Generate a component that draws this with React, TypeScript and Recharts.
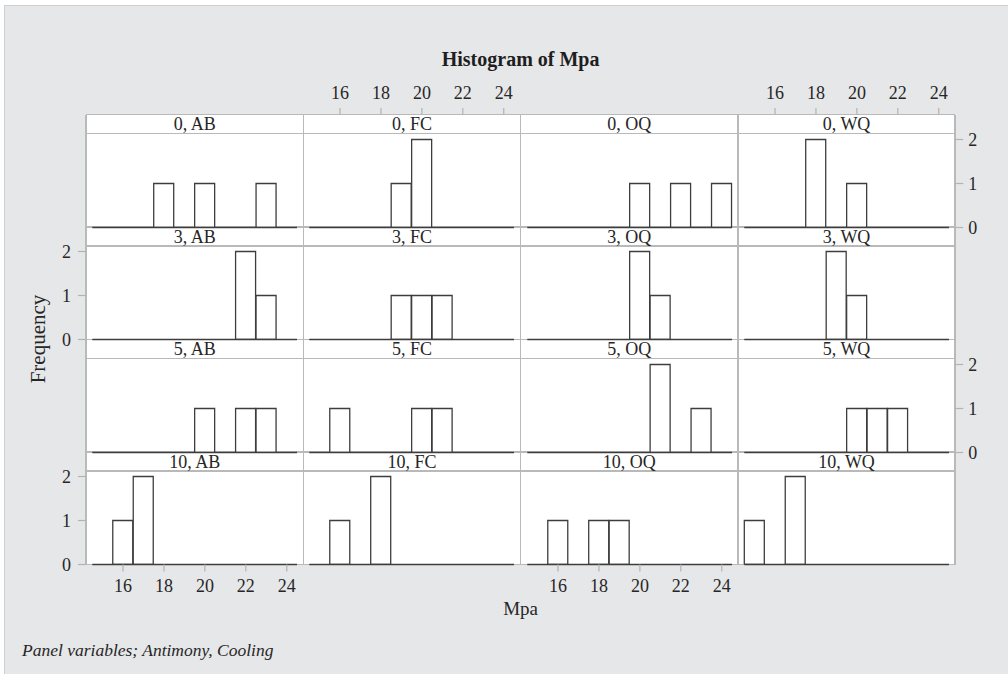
import React from 'react';
import { BarChart, Bar, XAxis, YAxis, ReferenceLine } from 'recharts';

// Bins of width 1 centred on integer Mpa values
const BINS = [15, 16, 17, 18, 19, 20, 21, 22, 23, 24];
const ANTIMONY = ['0', '3', '5', '10'];
const COOLING = ['AB', 'FC', 'OQ', 'WQ'];
const X_TICKS = [16, 18, 20, 22, 24];
const Y_TICKS = [0, 1, 2];

// Frequencies per bin (15..24) for each panel
const A0_AB = [0, 0, 0, 1, 0, 1, 0, 0, 1, 0];
const A0_FC = [0, 0, 0, 0, 1, 2, 0, 0, 0, 0];
const A0_OQ = [0, 0, 0, 0, 0, 1, 0, 1, 0, 1];
const A0_WQ = [0, 0, 0, 2, 0, 1, 0, 0, 0, 0];
const A3_AB = [0, 0, 0, 0, 0, 0, 0, 2, 1, 0];
const A3_FC = [0, 0, 0, 0, 1, 1, 1, 0, 0, 0];
const A3_OQ = [0, 0, 0, 0, 0, 2, 1, 0, 0, 0];
const A3_WQ = [0, 0, 0, 0, 2, 1, 0, 0, 0, 0];
const A5_AB = [0, 0, 0, 0, 0, 1, 0, 1, 1, 0];
const A5_FC = [0, 1, 0, 0, 0, 1, 1, 0, 0, 0];
const A5_OQ = [0, 0, 0, 0, 0, 0, 2, 0, 1, 0];
const A5_WQ = [0, 0, 0, 0, 0, 1, 1, 1, 0, 0];
const A10_AB = [0, 1, 2, 0, 0, 0, 0, 0, 0, 0];
const A10_FC = [0, 1, 0, 2, 0, 0, 0, 0, 0, 0];
const A10_OQ = [0, 1, 0, 1, 1, 0, 0, 0, 0, 0];
const A10_WQ = [1, 0, 2, 0, 0, 0, 0, 0, 0, 0];

const PANEL_COUNTS = [
  [A0_AB, A0_FC, A0_OQ, A0_WQ],
  [A3_AB, A3_FC, A3_OQ, A3_WQ],
  [A5_AB, A5_FC, A5_OQ, A5_WQ],
  [A10_AB, A10_FC, A10_OQ, A10_WQ],
];

// Layout
const GRID_L = 86;
const GRID_T = 114.5;
const COL_W = 217.3;
const ROW_H = 112.5;
const STRIP_H = 19;
const PAD_X = 6.3;
const PX_PER_UNIT = 44;
const Y_MAX = ROW_H / PX_PER_UNIT;
const AX = 40;

const FONT = '"Liberation Serif", "Times New Roman", serif';
const TEXT = '#262626';
const FRAME = '#b9b9b9';
const TICK = '#b3b3b3';
const BAR_STROKE = '#3d3d3d';

const tickStyle = { fill: TEXT, fontSize: 18, fontFamily: FONT };

function Panel({ r, c }: { r: number; c: number }) {
  const counts = PANEL_COUNTS[r][c];
  const data = BINS.map((b, i) => ({ bin: b, count: counts[i] }));
  const hasTop = r === 0 && c % 2 === 1;
  const hasBottom = r === 3 && c % 2 === 0;
  const hasLeft = c === 0 && r % 2 === 1;
  const hasRight = c === 3 && r % 2 === 0;
  const x0 = GRID_L + c * COL_W;
  const y0 = GRID_T + r * ROW_H;
  const margin = {
    top: hasTop ? 0 : AX,
    bottom: hasBottom ? 0 : AX,
    left: hasLeft ? 0 : AX,
    right: hasRight ? 0 : AX,
  };
  return (
    <div style={{ position: 'absolute', left: x0 - AX, top: y0 - AX }}>
      <BarChart
        width={COL_W + 2 * AX}
        height={ROW_H + 2 * AX}
        data={data}
        margin={margin}
        barCategoryGap={0}
        barGap={0}
      >
        <XAxis
          xAxisId="cat"
          dataKey="bin"
          type="category"
          orientation={hasTop ? 'top' : 'bottom'}
          hide={!(hasTop || hasBottom)}
          height={AX}
          padding={{ left: PAD_X, right: PAD_X }}
          ticks={X_TICKS}
          interval={0}
          axisLine={false}
          tickLine={{ stroke: TICK, strokeWidth: 1.2 }}
          tickSize={7}
          tickMargin={hasTop ? 9 : 8}
          tick={tickStyle}
        />
        <XAxis
          xAxisId="num"
          dataKey="bin"
          type="number"
          domain={[14.5, 24.5]}
          allowDataOverflow
          hide
          padding={{ left: PAD_X, right: PAD_X }}
        />
        <YAxis
          yAxisId="y"
          type="number"
          domain={[0, Y_MAX]}
          allowDataOverflow
          ticks={Y_TICKS}
          orientation={hasRight ? 'right' : 'left'}
          hide={!(hasLeft || hasRight)}
          width={AX}
          axisLine={false}
          tickLine={{ stroke: TICK, strokeWidth: 1.2 }}
          tickSize={8}
          tickMargin={hasRight ? 5 : 7}
          tick={tickStyle}
        />
        <ReferenceLine
          xAxisId="num"
          yAxisId="y"
          segment={[{ x: 14.5, y: 0 }, { x: 24.5, y: 0 }]}
          stroke={BAR_STROKE}
          strokeWidth={1.6}
          ifOverflow="visible"
        />
        <Bar
          xAxisId="cat"
          yAxisId="y"
          dataKey="count"
          fill="#ffffff"
          stroke={BAR_STROKE}
          strokeWidth={1.3}
          isAnimationActive={false}
        />
      </BarChart>
    </div>
  );
}

export default function App() {
  const gridW = COL_W * 4;
  const gridH = ROW_H * 4;
  const lines: React.ReactNode[] = [];
  for (let c = 0; c <= 4; c++) {
    lines.push(
      <div
        key={'v' + c}
        style={{
          position: 'absolute',
          left: GRID_L + c * COL_W - 0.75,
          top: GRID_T,
          width: 1.5,
          height: gridH,
          background: FRAME,
        }}
      />
    );
  }
  for (let r = 0; r <= 4; r++) {
    lines.push(
      <div
        key={'h' + r}
        style={{
          position: 'absolute',
          left: GRID_L,
          top: GRID_T + r * ROW_H - 0.75,
          width: gridW,
          height: 1.5,
          background: FRAME,
        }}
      />
    );
    if (r < 4) {
      lines.push(
        <div
          key={'s' + r}
          style={{
            position: 'absolute',
            left: GRID_L,
            top: GRID_T + r * ROW_H + STRIP_H - 0.75,
            width: gridW,
            height: 1.5,
            background: FRAME,
          }}
        />
      );
    }
  }
  const strips: React.ReactNode[] = [];
  ANTIMONY.forEach((a, r) =>
    COOLING.forEach((cl, c) => {
      strips.push(
        <div
          key={'t' + r + c}
          style={{
            position: 'absolute',
            left: GRID_L + c * COL_W,
            top: GRID_T + r * ROW_H + 0.5,
            width: COL_W,
            height: STRIP_H,
            lineHeight: STRIP_H + 'px',
            textAlign: 'center',
            fontFamily: FONT,
            fontSize: 18,
            color: TEXT,
          }}
        >
          {a + ', ' + cl}
        </div>
      );
    })
  );
  const panels: React.ReactNode[] = [];
  for (let r = 0; r < 4; r++)
    for (let c = 0; c < 4; c++) panels.push(<Panel key={'p' + r + c} r={r} c={c} />);

  return (
    <div
      style={{
        position: 'absolute',
        left: 0,
        top: 0,
        width: 1008,
        height: 674,
        background: '#ffffff',
        overflow: 'hidden',
      }}
    >
      <div
        style={{
          position: 'absolute',
          left: 4,
          top: 5,
          width: 1004,
          height: 669,
          background: '#e6e7e9',
          borderLeft: '1px solid #cfd0d2',
          borderTop: '1px solid #cfd0d2',
        }}
      />
      <div
        style={{
          position: 'absolute',
          left: GRID_L,
          top: GRID_T,
          width: gridW,
          height: gridH,
          background: '#ffffff',
        }}
      />
      {lines}
      {strips}
      {panels}
      <div
        style={{
          position: 'absolute',
          left: GRID_L,
          width: gridW,
          top: 59 - 12,
          height: 24,
          lineHeight: '24px',
          textAlign: 'center',
          fontFamily: FONT,
          fontWeight: 'bold',
          fontSize: 20,
          color: '#1e1e1e',
        }}
      >
        Histogram of Mpa
      </div>
      <div
        style={{
          position: 'absolute',
          left: 38 - 60,
          top: 339 - 12,
          width: 120,
          height: 24,
          lineHeight: '24px',
          textAlign: 'center',
          transform: 'rotate(-90deg)',
          fontFamily: FONT,
          fontSize: 21,
          color: TEXT,
        }}
      >
        Frequency
      </div>
      <div
        style={{
          position: 'absolute',
          left: GRID_L,
          width: gridW,
          top: 609 - 12,
          height: 24,
          lineHeight: '24px',
          textAlign: 'center',
          fontFamily: FONT,
          fontSize: 19,
          color: TEXT,
        }}
      >
        Mpa
      </div>
      <div
        style={{
          position: 'absolute',
          left: 22,
          top: 650 - 12,
          height: 24,
          lineHeight: '24px',
          fontFamily: FONT,
          fontStyle: 'italic',
          fontSize: 17.5,
          color: TEXT,
        }}
      >
        Panel variables; Antimony, Cooling
      </div>
    </div>
  );
}
